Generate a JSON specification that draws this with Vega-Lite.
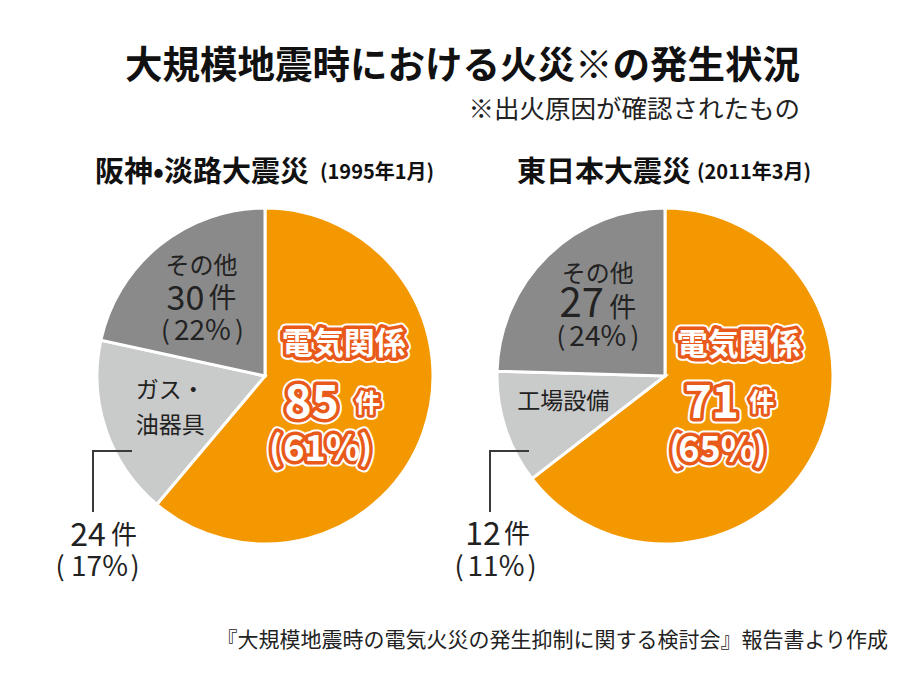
{
  "$schema": "https://vega.github.io/schema/vega-lite/v6.json",
  "background": "white",
  "padding": {"left": 55, "top": 48, "right": 10, "bottom": 10},
  "title": {
    "text": "大規模地震時における火災※の発生状況",
    "subtitle": "※出火原因が確認されたもの",
    "anchor": "end", "dx": -88, "offset": 36,
    "font": "Noto Sans CJK JP", "fontSize": 37.5, "fontWeight": "bold", "color": "#111",
    "subtitleFont": "Noto Sans CJK JP", "subtitleFontSize": 25.5, "subtitleColor": "#222", "subtitlePadding": 12
  },
  "vconcat": [
    {
      "title": {
        "text": "『大規模地震時の電気火災の発生抑制に関する検討会』報告書より作成",
        "orient": "bottom", "anchor": "end", "dx": 33, "offset": 48,
        "font": "Noto Sans CJK JP", "fontSize": 21, "fontWeight": "normal", "color": "#222"
      },
      "spacing": 20,
      "bounds": "flush",
      "hconcat": [
        {
          "width": 380, "height": 380,
          "title": {
            "text": "阪神•淡路大震災",
            "anchor": "start", "frame": "group", "dx": 20, "offset": -25,
            "font": "Noto Sans CJK JP", "fontSize": 29, "fontWeight": "bold", "color": "#111"
          },
          "data": {"values": [
            {"quake": "阪神・淡路大震災", "period": "(1995年1月)", "cause": "電気関係", "label": "電気関係", "count": 85, "pct": 0.61, "order": 1},
            {"quake": "阪神・淡路大震災", "period": "(1995年1月)", "cause": "ガス・油器具", "label": "ガス・\n油器具", "count": 24, "pct": 0.17, "order": 2},
            {"quake": "阪神・淡路大震災", "period": "(1995年1月)", "cause": "その他", "label": "その他", "count": 30, "pct": 0.22, "order": 3}
          ]},
          "layer": [
            {
              "encoding": {
                "theta": {"field": "count", "type": "quantitative", "stack": true},
                "order": {"field": "order", "type": "quantitative"}
              },
              "layer": [
                {"mark": {"type": "arc", "outerRadius": 168, "stroke": "white", "strokeWidth": 3},
                 "encoding": {"color": {"field": "cause", "type": "nominal", "legend": null,
                   "scale": {"domain": ["電気関係", "ガス・油器具", "工場設備", "その他"], "range": ["#F39800", "#C9CACA", "#C9CACA", "#8A8A8A"]}}}},
                {"encoding": {"text": {"condition": {"test": "datum.order === 1", "field": "cause", "type": "nominal"}, "value": ""}},
                 "layer": [
                  {"mark": {"type": "text", "radius": 70, "dx": 13, "dy": -55, "fontSize": 31, "fontWeight": "bold", "font": "Noto Sans CJK JP", "fill": "white", "stroke": "white", "strokeWidth": 11, "strokeJoin": "round"}},
                  {"mark": {"type": "text", "radius": 70, "dx": 13, "dy": -55, "fontSize": 31, "fontWeight": "bold", "font": "Noto Sans CJK JP", "fill": "#E8591A", "stroke": "#E8591A", "strokeWidth": 7, "strokeJoin": "round"}},
                  {"mark": {"type": "text", "radius": 70, "dx": 13, "dy": -55, "fontSize": 31, "fontWeight": "bold", "font": "Noto Sans CJK JP", "fill": "white"}}
                 ]},
                {"encoding": {"text": {"condition": {"test": "datum.order === 1", "field": "count", "type": "quantitative"}, "value": ""}},
                 "layer": [
                  {"mark": {"type": "text", "radius": 70, "dx": -19, "dy": 4, "fontSize": 46, "fontWeight": "bold", "font": "Noto Sans CJK JP", "fill": "white", "stroke": "white", "strokeWidth": 11, "strokeJoin": "round"}},
                  {"mark": {"type": "text", "radius": 70, "dx": -19, "dy": 4, "fontSize": 46, "fontWeight": "bold", "font": "Noto Sans CJK JP", "fill": "#E8591A", "stroke": "#E8591A", "strokeWidth": 7, "strokeJoin": "round"}},
                  {"mark": {"type": "text", "radius": 70, "dx": -19, "dy": 4, "fontSize": 46, "fontWeight": "bold", "font": "Noto Sans CJK JP", "fill": "white"}}
                 ]},
                {"encoding": {"text": {"condition": {"test": "datum.order === 1", "value": "件"}, "value": ""}},
                 "layer": [
                  {"mark": {"type": "text", "radius": 70, "dx": 37, "dy": 4, "fontSize": 25, "fontWeight": "bold", "font": "Noto Sans CJK JP", "fill": "white", "stroke": "white", "strokeWidth": 10, "strokeJoin": "round"}},
                  {"mark": {"type": "text", "radius": 70, "dx": 37, "dy": 4, "fontSize": 25, "fontWeight": "bold", "font": "Noto Sans CJK JP", "fill": "#E8591A", "stroke": "#E8591A", "strokeWidth": 6, "strokeJoin": "round"}},
                  {"mark": {"type": "text", "radius": 70, "dx": 37, "dy": 4, "fontSize": 25, "fontWeight": "bold", "font": "Noto Sans CJK JP", "fill": "white"}}
                 ]},
                {"encoding": {"text": {"condition": {"test": "datum.order === 1", "value": "("}, "value": ""}},
                 "layer": [
                  {"mark": {"type": "text", "radius": 70, "dx": -55, "dy": 50, "fontSize": 34, "fontWeight": "bold", "font": "Noto Sans CJK JP", "fill": "white", "stroke": "white", "strokeWidth": 11, "strokeJoin": "round"}},
                  {"mark": {"type": "text", "radius": 70, "dx": -55, "dy": 50, "fontSize": 34, "fontWeight": "bold", "font": "Noto Sans CJK JP", "fill": "#E8591A", "stroke": "#E8591A", "strokeWidth": 7, "strokeJoin": "round"}},
                  {"mark": {"type": "text", "radius": 70, "dx": -55, "dy": 50, "fontSize": 34, "fontWeight": "bold", "font": "Noto Sans CJK JP", "fill": "white"}}
                 ]},
                {"encoding": {"text": {"condition": {"test": "datum.order === 1", "field": "pct", "type": "quantitative", "format": ".0%"}, "value": ""}},
                 "layer": [
                  {"mark": {"type": "text", "radius": 70, "dx": -9, "dy": 50, "fontSize": 36, "fontWeight": "bold", "font": "Noto Sans CJK JP", "fill": "white", "stroke": "white", "strokeWidth": 11, "strokeJoin": "round"}},
                  {"mark": {"type": "text", "radius": 70, "dx": -9, "dy": 50, "fontSize": 36, "fontWeight": "bold", "font": "Noto Sans CJK JP", "fill": "#E8591A", "stroke": "#E8591A", "strokeWidth": 7, "strokeJoin": "round"}},
                  {"mark": {"type": "text", "radius": 70, "dx": -9, "dy": 50, "fontSize": 36, "fontWeight": "bold", "font": "Noto Sans CJK JP", "fill": "white"}}
                 ]},
                {"encoding": {"text": {"condition": {"test": "datum.order === 1", "value": ")"}, "value": ""}},
                 "layer": [
                  {"mark": {"type": "text", "radius": 70, "dx": 35, "dy": 50, "fontSize": 34, "fontWeight": "bold", "font": "Noto Sans CJK JP", "fill": "white", "stroke": "white", "strokeWidth": 11, "strokeJoin": "round"}},
                  {"mark": {"type": "text", "radius": 70, "dx": 35, "dy": 50, "fontSize": 34, "fontWeight": "bold", "font": "Noto Sans CJK JP", "fill": "#E8591A", "stroke": "#E8591A", "strokeWidth": 7, "strokeJoin": "round"}},
                  {"mark": {"type": "text", "radius": 70, "dx": 35, "dy": 50, "fontSize": 34, "fontWeight": "bold", "font": "Noto Sans CJK JP", "fill": "white"}}
                 ]},
                {"mark": {"type": "text", "radius": 95, "dx": -4, "dy": -35, "fontSize": 24, "font": "Noto Sans CJK JP", "fill": "#222"},
                 "encoding": {"text": {"condition": {"test": "datum.order === 3", "field": "cause", "type": "nominal"}, "value": ""}}},
                {"mark": {"type": "text", "radius": 95, "dx": -20, "dy": -2, "fontSize": 34, "font": "Noto Sans CJK JP", "fill": "#222"},
                 "encoding": {"text": {"condition": {"test": "datum.order === 3", "field": "count", "type": "quantitative"}, "value": ""}}},
                {"mark": {"type": "text", "radius": 95, "dx": 17, "dy": -2, "fontSize": 28, "font": "Noto Sans CJK JP", "fill": "#222"},
                 "encoding": {"text": {"condition": {"test": "datum.order === 3", "value": "件"}, "value": ""}}},
                {"mark": {"type": "text", "radius": 95, "dx": -40, "dy": 30, "fontSize": 26, "font": "Noto Sans CJK JP", "fill": "#222"},
                 "encoding": {"text": {"condition": {"test": "datum.order === 3", "value": "("}, "value": ""}}},
                {"mark": {"type": "text", "radius": 95, "dx": -3, "dy": 30, "fontSize": 28, "font": "Noto Sans CJK JP", "fill": "#222"},
                 "encoding": {"text": {"condition": {"test": "datum.order === 3", "field": "pct", "type": "quantitative", "format": ".0%"}, "value": ""}}},
                {"mark": {"type": "text", "radius": 95, "dx": 34, "dy": 30, "fontSize": 26, "font": "Noto Sans CJK JP", "fill": "#222"},
                 "encoding": {"text": {"condition": {"test": "datum.order === 3", "value": ")"}, "value": ""}}},
                {"mark": {"type": "text", "radius": 100, "dx": 0, "dy": -17, "fontSize": 23, "lineHeight": 35, "lineBreak": "\n", "font": "Noto Sans CJK JP", "fill": "#222"},
                 "encoding": {"text": {"condition": {"test": "datum.order === 2", "field": "label", "type": "nominal"}, "value": ""}}}
              ]
            },
            {
              "transform": [{"filter": "datum.order === 2"}],
              "layer": [
                {"mark": {"type": "rule", "stroke": "#3a3a3a", "strokeWidth": 2, "strokeCap": "square"},
                 "encoding": {
                   "x": {"datum": -172, "type": "quantitative", "scale": {"domain": [-190, 190], "nice": false, "zero": false}, "axis": null},
                   "y": {"datum": -135, "type": "quantitative", "scale": {"domain": [-190, 190], "nice": false, "zero": false}, "axis": null},
                   "y2": {"datum": -75}}},
                {"mark": {"type": "rule", "stroke": "#3a3a3a", "strokeWidth": 2, "strokeCap": "square"},
                 "encoding": {
                   "x": {"datum": -172, "type": "quantitative", "scale": {"domain": [-190, 190], "nice": false, "zero": false}, "axis": null},
                   "x2": {"datum": -134},
                   "y": {"datum": -75, "type": "quantitative", "scale": {"domain": [-190, 190], "nice": false, "zero": false}, "axis": null}}},
                {"mark": {"type": "text", "fontSize": 32, "font": "Noto Sans CJK JP", "fill": "#222"},
                 "encoding": {"x": {"datum": -177, "type": "quantitative"}, "y": {"datum": -160, "type": "quantitative"}, "text": {"field": "count", "type": "quantitative"}}},
                {"mark": {"type": "text", "fontSize": 26, "font": "Noto Sans CJK JP", "fill": "#222", "text": "件"},
                 "encoding": {"x": {"datum": -141, "type": "quantitative"}, "y": {"datum": -160, "type": "quantitative"}}},
                {"mark": {"type": "text", "fontSize": 27, "font": "Noto Sans CJK JP", "fill": "#222", "text": "("},
                 "encoding": {"x": {"datum": -205, "type": "quantitative"}, "y": {"datum": -192, "type": "quantitative"}}},
                {"mark": {"type": "text", "fontSize": 28, "font": "Noto Sans CJK JP", "fill": "#222"},
                 "encoding": {"x": {"datum": -165.5, "type": "quantitative"}, "y": {"datum": -192, "type": "quantitative"}, "text": {"field": "pct", "type": "quantitative", "format": ".0%"}}},
                {"mark": {"type": "text", "fontSize": 27, "font": "Noto Sans CJK JP", "fill": "#222", "text": ")"},
                 "encoding": {"x": {"datum": -130, "type": "quantitative"}, "y": {"datum": -192, "type": "quantitative"}}},
                {"mark": {"type": "text", "align": "left", "fontSize": 20, "fontWeight": "bold", "font": "Noto Sans CJK JP", "fill": "#111"},
                 "encoding": {"x": {"datum": 55, "type": "quantitative"}, "y": {"datum": 203, "type": "quantitative"}, "text": {"field": "period", "type": "nominal"}}}
              ]
            }
          ]
        },
        {
          "width": 380, "height": 380,
          "title": {
            "text": "東日本大震災",
            "anchor": "start", "frame": "group", "dx": 42, "offset": -25,
            "font": "Noto Sans CJK JP", "fontSize": 29, "fontWeight": "bold", "color": "#111"
          },
          "data": {"values": [
            {"quake": "東日本大震災", "period": "(2011年3月)", "cause": "電気関係", "label": "電気関係", "count": 71, "pct": 0.65, "order": 1},
            {"quake": "東日本大震災", "period": "(2011年3月)", "cause": "工場設備", "label": "工場設備", "count": 12, "pct": 0.11, "order": 2},
            {"quake": "東日本大震災", "period": "(2011年3月)", "cause": "その他", "label": "その他", "count": 27, "pct": 0.24, "order": 3}
          ]},
          "layer": [
            {
              "encoding": {
                "theta": {"field": "count", "type": "quantitative", "stack": true},
                "order": {"field": "order", "type": "quantitative"}
              },
              "layer": [
                {"mark": {"type": "arc", "outerRadius": 168, "stroke": "white", "strokeWidth": 3},
                 "encoding": {"color": {"field": "cause", "type": "nominal", "legend": null,
                   "scale": {"domain": ["電気関係", "ガス・油器具", "工場設備", "その他"], "range": ["#F39800", "#C9CACA", "#C9CACA", "#8A8A8A"]}}}},
                {"encoding": {"text": {"condition": {"test": "datum.order === 1", "field": "cause", "type": "nominal"}, "value": ""}},
                 "layer": [
                  {"mark": {"type": "text", "radius": 70, "dx": 11, "dy": -61, "fontSize": 31, "fontWeight": "bold", "font": "Noto Sans CJK JP", "fill": "white", "stroke": "white", "strokeWidth": 11, "strokeJoin": "round"}},
                  {"mark": {"type": "text", "radius": 70, "dx": 11, "dy": -61, "fontSize": 31, "fontWeight": "bold", "font": "Noto Sans CJK JP", "fill": "#E8591A", "stroke": "#E8591A", "strokeWidth": 7, "strokeJoin": "round"}},
                  {"mark": {"type": "text", "radius": 70, "dx": 11, "dy": -61, "fontSize": 31, "fontWeight": "bold", "font": "Noto Sans CJK JP", "fill": "white"}}
                 ]},
                {"encoding": {"text": {"condition": {"test": "datum.order === 1", "field": "count", "type": "quantitative"}, "value": ""}},
                 "layer": [
                  {"mark": {"type": "text", "radius": 70, "dx": -16, "dy": -3, "fontSize": 46, "fontWeight": "bold", "font": "Noto Sans CJK JP", "fill": "white", "stroke": "white", "strokeWidth": 11, "strokeJoin": "round"}},
                  {"mark": {"type": "text", "radius": 70, "dx": -16, "dy": -3, "fontSize": 46, "fontWeight": "bold", "font": "Noto Sans CJK JP", "fill": "#E8591A", "stroke": "#E8591A", "strokeWidth": 7, "strokeJoin": "round"}},
                  {"mark": {"type": "text", "radius": 70, "dx": -16, "dy": -3, "fontSize": 46, "fontWeight": "bold", "font": "Noto Sans CJK JP", "fill": "white"}}
                 ]},
                {"encoding": {"text": {"condition": {"test": "datum.order === 1", "value": "件"}, "value": ""}},
                 "layer": [
                  {"mark": {"type": "text", "radius": 70, "dx": 34, "dy": -4, "fontSize": 25, "fontWeight": "bold", "font": "Noto Sans CJK JP", "fill": "white", "stroke": "white", "strokeWidth": 10, "strokeJoin": "round"}},
                  {"mark": {"type": "text", "radius": 70, "dx": 34, "dy": -4, "fontSize": 25, "fontWeight": "bold", "font": "Noto Sans CJK JP", "fill": "#E8591A", "stroke": "#E8591A", "strokeWidth": 6, "strokeJoin": "round"}},
                  {"mark": {"type": "text", "radius": 70, "dx": 34, "dy": -4, "fontSize": 25, "fontWeight": "bold", "font": "Noto Sans CJK JP", "fill": "white"}}
                 ]},
                {"encoding": {"text": {"condition": {"test": "datum.order === 1", "value": "("}, "value": ""}},
                 "layer": [
                  {"mark": {"type": "text", "radius": 70, "dx": -52, "dy": 44, "fontSize": 34, "fontWeight": "bold", "font": "Noto Sans CJK JP", "fill": "white", "stroke": "white", "strokeWidth": 11, "strokeJoin": "round"}},
                  {"mark": {"type": "text", "radius": 70, "dx": -52, "dy": 44, "fontSize": 34, "fontWeight": "bold", "font": "Noto Sans CJK JP", "fill": "#E8591A", "stroke": "#E8591A", "strokeWidth": 7, "strokeJoin": "round"}},
                  {"mark": {"type": "text", "radius": 70, "dx": -52, "dy": 44, "fontSize": 34, "fontWeight": "bold", "font": "Noto Sans CJK JP", "fill": "white"}}
                 ]},
                {"encoding": {"text": {"condition": {"test": "datum.order === 1", "field": "pct", "type": "quantitative", "format": ".0%"}, "value": ""}},
                 "layer": [
                  {"mark": {"type": "text", "radius": 70, "dx": -11, "dy": 44, "fontSize": 36, "fontWeight": "bold", "font": "Noto Sans CJK JP", "fill": "white", "stroke": "white", "strokeWidth": 11, "strokeJoin": "round"}},
                  {"mark": {"type": "text", "radius": 70, "dx": -11, "dy": 44, "fontSize": 36, "fontWeight": "bold", "font": "Noto Sans CJK JP", "fill": "#E8591A", "stroke": "#E8591A", "strokeWidth": 7, "strokeJoin": "round"}},
                  {"mark": {"type": "text", "radius": 70, "dx": -11, "dy": 44, "fontSize": 36, "fontWeight": "bold", "font": "Noto Sans CJK JP", "fill": "white"}}
                 ]},
                {"encoding": {"text": {"condition": {"test": "datum.order === 1", "value": ")"}, "value": ""}},
                 "layer": [
                  {"mark": {"type": "text", "radius": 70, "dx": 32, "dy": 44, "fontSize": 34, "fontWeight": "bold", "font": "Noto Sans CJK JP", "fill": "white", "stroke": "white", "strokeWidth": 11, "strokeJoin": "round"}},
                  {"mark": {"type": "text", "radius": 70, "dx": 32, "dy": 44, "fontSize": 34, "fontWeight": "bold", "font": "Noto Sans CJK JP", "fill": "#E8591A", "stroke": "#E8591A", "strokeWidth": 7, "strokeJoin": "round"}},
                  {"mark": {"type": "text", "radius": 70, "dx": 32, "dy": 44, "fontSize": 34, "fontWeight": "bold", "font": "Noto Sans CJK JP", "fill": "white"}}
                 ]},
                {"mark": {"type": "text", "radius": 95, "dx": -1, "dy": -33, "fontSize": 24, "font": "Noto Sans CJK JP", "fill": "#222"},
                 "encoding": {"text": {"condition": {"test": "datum.order === 3", "field": "cause", "type": "nominal"}, "value": ""}}},
                {"mark": {"type": "text", "radius": 95, "dx": -17, "dy": -3, "fontSize": 40, "font": "Noto Sans CJK JP", "fill": "#222"},
                 "encoding": {"text": {"condition": {"test": "datum.order === 3", "field": "count", "type": "quantitative"}, "value": ""}}},
                {"mark": {"type": "text", "radius": 95, "dx": 24, "dy": 1, "fontSize": 27, "font": "Noto Sans CJK JP", "fill": "#222"},
                 "encoding": {"text": {"condition": {"test": "datum.order === 3", "value": "件"}, "value": ""}}},
                {"mark": {"type": "text", "radius": 95, "dx": -38, "dy": 30, "fontSize": 26, "font": "Noto Sans CJK JP", "fill": "#222"},
                 "encoding": {"text": {"condition": {"test": "datum.order === 3", "value": "("}, "value": ""}}},
                {"mark": {"type": "text", "radius": 95, "dx": -1, "dy": 30, "fontSize": 28, "font": "Noto Sans CJK JP", "fill": "#222"},
                 "encoding": {"text": {"condition": {"test": "datum.order === 3", "field": "pct", "type": "quantitative", "format": ".0%"}, "value": ""}}},
                {"mark": {"type": "text", "radius": 95, "dx": 36, "dy": 30, "fontSize": 26, "font": "Noto Sans CJK JP", "fill": "#222"},
                 "encoding": {"text": {"condition": {"test": "datum.order === 3", "value": ")"}, "value": ""}}},
                {"mark": {"type": "text", "radius": 106, "dx": -1, "dy": -7, "fontSize": 23, "lineHeight": 35, "lineBreak": "\n", "font": "Noto Sans CJK JP", "fill": "#222"},
                 "encoding": {"text": {"condition": {"test": "datum.order === 2", "field": "label", "type": "nominal"}, "value": ""}}}
              ]
            },
            {
              "transform": [{"filter": "datum.order === 2"}],
              "layer": [
                {"mark": {"type": "rule", "stroke": "#3a3a3a", "strokeWidth": 2, "strokeCap": "square"},
                 "encoding": {
                   "x": {"datum": -175, "type": "quantitative", "scale": {"domain": [-190, 190], "nice": false, "zero": false}, "axis": null},
                   "y": {"datum": -135, "type": "quantitative", "scale": {"domain": [-190, 190], "nice": false, "zero": false}, "axis": null},
                   "y2": {"datum": -75}}},
                {"mark": {"type": "rule", "stroke": "#3a3a3a", "strokeWidth": 2, "strokeCap": "square"},
                 "encoding": {
                   "x": {"datum": -175, "type": "quantitative", "scale": {"domain": [-190, 190], "nice": false, "zero": false}, "axis": null},
                   "x2": {"datum": -137},
                   "y": {"datum": -75, "type": "quantitative", "scale": {"domain": [-190, 190], "nice": false, "zero": false}, "axis": null}}},
                {"mark": {"type": "text", "fontSize": 32, "font": "Noto Sans CJK JP", "fill": "#222"},
                 "encoding": {"x": {"datum": -182, "type": "quantitative"}, "y": {"datum": -159, "type": "quantitative"}, "text": {"field": "count", "type": "quantitative"}}},
                {"mark": {"type": "text", "fontSize": 26, "font": "Noto Sans CJK JP", "fill": "#222", "text": "件"},
                 "encoding": {"x": {"datum": -148, "type": "quantitative"}, "y": {"datum": -159, "type": "quantitative"}}},
                {"mark": {"type": "text", "fontSize": 27, "font": "Noto Sans CJK JP", "fill": "#222", "text": "("},
                 "encoding": {"x": {"datum": -206, "type": "quantitative"}, "y": {"datum": -192, "type": "quantitative"}}},
                {"mark": {"type": "text", "fontSize": 28, "font": "Noto Sans CJK JP", "fill": "#222"},
                 "encoding": {"x": {"datum": -169, "type": "quantitative"}, "y": {"datum": -192, "type": "quantitative"}, "text": {"field": "pct", "type": "quantitative", "format": ".0%"}}},
                {"mark": {"type": "text", "fontSize": 27, "font": "Noto Sans CJK JP", "fill": "#222", "text": ")"},
                 "encoding": {"x": {"datum": -133, "type": "quantitative"}, "y": {"datum": -192, "type": "quantitative"}}},
                {"mark": {"type": "text", "align": "left", "fontSize": 20, "fontWeight": "bold", "font": "Noto Sans CJK JP", "fill": "#111"},
                 "encoding": {"x": {"datum": 32, "type": "quantitative"}, "y": {"datum": 203, "type": "quantitative"}, "text": {"field": "period", "type": "nominal"}}}
              ]
            }
          ]
        }
      ]
    }
  ],
  "config": {"view": {"stroke": null}}
}
